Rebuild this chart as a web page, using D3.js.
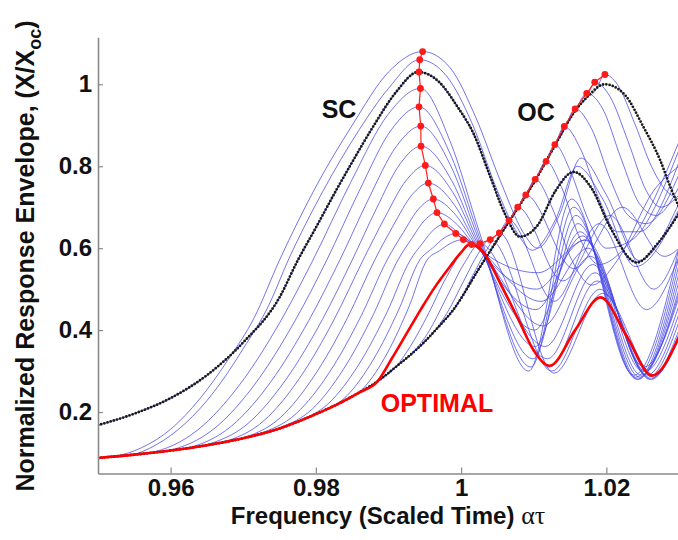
<!DOCTYPE html>
<html><head><meta charset="utf-8">
<script src="https://cdn.jsdelivr.net/npm/d3@7"></script>
<style>body{margin:0;background:#fff}svg{display:block}</style>
</head><body><svg id="c" width="678" height="540"></svg>
<script>
// ---- data ----
const xTicks = [0.96, 0.98, 1, 1.02];
const yTicks = [0.2, 0.4, 0.6, 0.8, 1];

// open-circuit (OC) response
const ocX = [0.950,0.955,0.960,0.965,0.970,0.975,0.980,0.9833,0.986,0.9885,0.991,0.9943,0.9970,0.9989,1.0026,1.0066,1.0102,1.0129,1.0157,1.0173,1.0198,1.0225,1.0251,1.0274,1.0288,1.030];
const ocY = [0.088,0.096,0.106,0.119,0.136,0.160,0.195,0.222,0.248,0.275,0.310,0.360,0.410,0.449,0.554,0.665,0.765,0.850,0.935,0.968,1.000,0.975,0.896,0.815,0.750,0.700];

// short-circuit (SC) response
const scX = [0.950,0.955,0.960,0.965,0.970,0.975,0.9775,0.980,0.9826,0.985,0.988,0.991,0.9941,0.997,0.9995,1.0017,1.004,1.006,1.0081,1.0105,1.013,1.0155,1.018,1.0205,1.0242,1.027,1.030];
const scY = [0.168,0.196,0.234,0.290,0.370,0.480,0.570,0.650,0.735,0.810,0.900,0.980,1.030,1.005,0.945,0.880,0.775,0.685,0.628,0.655,0.740,0.786,0.745,0.652,0.565,0.610,0.685];

// optimal switching response
const optX = [0.950,0.955,0.960,0.965,0.970,0.975,0.980,0.9833,0.986,0.9885,0.9905,0.9925,0.9945,0.9965,0.9985,1.0000,1.0012,1.0030,1.0055,1.0081,1.0100,1.0122,1.0157,1.0192,1.0228,1.0263,1.030];
const optY = [0.088,0.096,0.106,0.119,0.136,0.160,0.195,0.222,0.248,0.275,0.332,0.392,0.452,0.508,0.556,0.590,0.610,0.592,0.510,0.418,0.350,0.313,0.400,0.480,0.385,0.289,0.384];

// peak of each switching curve (red dots)
const peakX = [0.9947,0.9943,0.9942,0.9944,0.9942,0.99444,0.99448,0.99507,0.99548,0.99617,0.99668,0.99769,0.99926,1.0003,1.00145,1.0026,1.0040,1.00526,1.0066,1.0078,1.0089,1.0102,1.0117,1.0129,1.0142,1.0157,1.0173,1.0184,1.0198];
const peakY = [1.080,1.060,1.030,0.990,0.945,0.898,0.849,0.802,0.759,0.720,0.687,0.659,0.636,0.621,0.609,0.611,0.621,0.637,0.668,0.700,0.730,0.768,0.812,0.853,0.897,0.940,0.978,1.005,1.024];

// switching curves, early family (leave OC before the SC resonance)
const earlyCurves = [
 [[0.9522,0.0915],[0.956,0.113],[0.960,0.158],[0.964,0.232],[0.968,0.33],[0.9715,0.43],[0.975,0.571],[0.980,0.75],[0.985,0.90],[0.990,1.03],[0.9947,1.08],[0.9985,1.04],[1.002,0.92],[1.0055,0.76],[1.0085,0.64],[1.0105,0.60],[1.0135,0.68],[1.0165,0.82],[1.020,0.73],[1.0245,0.57],[1.030,0.71]],
 [[0.9545,0.095],[0.958,0.12],[0.962,0.172],[0.966,0.25],[0.970,0.355],[0.9735,0.46],[0.9762,0.571],[0.981,0.74],[0.986,0.89],[0.990,0.99],[0.9943,1.06],[0.998,1.02],[1.0015,0.905],[1.005,0.74],[1.0078,0.635],[1.0098,0.595],[1.013,0.67],[1.016,0.80],[1.0195,0.72],[1.024,0.555],[1.030,0.695]],
 [[0.9570,0.100],[0.96378,0.157],[0.96943,0.265],[0.97508,0.420],[0.9796,0.571],[0.98478,0.760],[0.98996,0.927],[0.9944,0.990],[0.9985,0.86],[1.0026,0.635],[1.0093,0.30],[1.0152,0.72],[1.0238,0.29],[1.030,0.60]],
 [[0.9595,0.105],[0.9661,0.161],[0.9716,0.268],[0.9771,0.422],[0.9815,0.571],[0.98595,0.739],[0.99039,0.889],[0.9942,0.945],[0.9985,0.83],[1.0025,0.628],[1.0096,0.31],[1.0155,0.70],[1.0240,0.285],[1.030,0.58]],
 [[0.9620,0.111],[0.96839,0.166],[0.97372,0.272],[0.97904,0.424],[0.9833,0.571],[0.9872,0.718],[0.9911,0.849],[0.99444,0.898],[0.9986,0.80],[1.0024,0.622],[1.0099,0.33],[1.0158,0.68],[1.0242,0.28],[1.030,0.56]],
 [[0.9645,0.118],[0.97065,0.172],[0.97578,0.277],[0.9809,0.426],[0.9850,0.571],[0.98832,0.696],[0.99164,0.807],[0.99448,0.849],[0.9987,0.765],[1.0023,0.617],[1.0102,0.36],[1.0161,0.66],[1.0244,0.28],[1.030,0.54]],
 [[0.9670,0.126],[0.97285,0.179],[0.97773,0.282],[0.9826,0.429],[0.9865,0.571],[0.9895,0.675],[0.9925,0.767],[0.99507,0.802],[0.9989,0.735],[1.0022,0.613],[1.0101,0.40],[1.0164,0.64],[1.0246,0.285],[1.030,0.52]],
 [[0.9695,0.134],[0.97508,0.186],[0.97973,0.287],[0.98438,0.431],[0.9881,0.571],[0.99068,0.656],[0.99327,0.731],[0.99548,0.759],[0.9991,0.705],[1.0021,0.610],[1.0103,0.45],[1.0167,0.63],[1.0248,0.29],[1.030,0.50]],
 [[0.9720,0.146],[0.97734,0.197],[0.98179,0.295],[0.98624,0.435],[0.9898,0.571],[0.99203,0.638],[0.99426,0.698],[0.99617,0.720],[0.9993,0.68],[1.0020,0.608],[1.0104,0.50],[1.0170,0.62],[1.0250,0.30],[1.030,0.49]],
 [[0.9745,0.158],[0.97954,0.208],[0.98374,0.303],[0.98794,0.439],[0.9913,0.571],[0.99318,0.623],[0.99507,0.670],[0.99668,0.687],[0.9995,0.657],[1.0019,0.607],[1.0106,0.54],[1.0172,0.62],[1.0252,0.31],[1.030,0.48]],
 [[0.9770,0.174],[0.9818,0.222],[0.9858,0.313],[0.9898,0.444],[0.9930,0.571],[0.99464,0.611],[0.99628,0.646],[0.99769,0.659],[1.0000,0.632],[1.0020,0.606],[1.0110,0.47],[1.0175,0.60],[1.0254,0.30],[1.030,0.46]],
 [[0.9800,0.195],[0.98429,0.240],[0.98787,0.327],[0.99144,0.451],[0.9943,0.571],[0.99604,0.600],[0.99777,0.626],[0.99926,0.636],[1.0019,0.607],[1.0113,0.41],[1.0178,0.58],[1.0256,0.29],[1.030,0.44]],
 [[0.9830,0.219],[0.98669,0.261],[0.98977,0.342],[0.99284,0.458],[0.9953,0.571],[0.99705,0.594],[0.9988,0.614],[1.0003,0.621],[1.0022,0.60],[1.0116,0.36],[1.0181,0.56],[1.0258,0.285],[1.030,0.42]]
];

// switching curves, late family (leave OC after the SC resonance)
const lateCurves = [
 [[0.991,0.31],[0.993,0.36],[0.9955,0.44],[0.998,0.53],[1.00145,0.609],[1.0119,0.33],[1.0184,0.54],[1.0260,0.28],[1.030,0.40]],
 [[0.9935,0.348],[0.9955,0.395],[0.998,0.48],[1.0005,0.565],[1.0026,0.611],[1.0122,0.31],[1.0187,0.52],[1.0262,0.28],[1.030,0.39]],
 [[0.996,0.391],[0.998,0.44],[1.0005,0.525],[1.0023,0.585],[1.004,0.621],[1.0125,0.30],[1.0191,0.50],[1.0264,0.285],[1.030,0.385]],
 [[0.9995,0.463],[1.0015,0.53],[1.0035,0.595],[1.00526,0.637],[1.0128,0.295],[1.0195,0.49],[1.0266,0.29],[1.030,0.38]],
 [[1.0045,0.607],[1.0066,0.668],[1.0128,0.47],[1.0190,0.66],[1.0255,0.45],[1.030,0.58]],
 [[1.0066,0.665],[1.0078,0.700],[1.0140,0.52],[1.0205,0.68],[1.0265,0.50],[1.030,0.60]],
 [[1.0078,0.698],[1.0089,0.730],[1.0155,0.55],[1.0222,0.70],[1.0280,0.58],[1.030,0.60]],
 [[1.0089,0.729],[1.0102,0.768],[1.0125,0.70],[1.015,0.58],[1.018,0.51],[1.0215,0.57],[1.0265,0.74],[1.030,0.80]],
 [[1.0102,0.765],[1.0117,0.812],[1.0138,0.75],[1.0162,0.63],[1.019,0.56],[1.0225,0.60],[1.030,0.86]],
 [[1.0117,0.812],[1.0129,0.853],[1.015,0.79],[1.0175,0.67],[1.020,0.60],[1.0235,0.62],[1.030,0.84]],
 [[1.0129,0.850],[1.0142,0.897],[1.0165,0.84],[1.019,0.72],[1.0215,0.64],[1.0245,0.64],[1.030,0.81]],
 [[1.0142,0.889],[1.0157,0.940],[1.018,0.89],[1.0205,0.77],[1.023,0.68],[1.0255,0.66],[1.030,0.78]],
 [[1.0157,0.935],[1.0173,0.978],[1.0195,0.94],[1.022,0.82],[1.0245,0.71],[1.0268,0.68],[1.030,0.75]],
 [[1.0173,0.968],[1.0184,1.005],[1.0205,0.97],[1.023,0.86],[1.0255,0.74],[1.0275,0.70],[1.030,0.73]],
 [[1.0184,0.982],[1.0198,1.024],[1.0215,1.00],[1.024,0.90],[1.0262,0.80],[1.028,0.745],[1.030,0.72]]
];

// ---- drawing ----
const svg = d3.select("#c");
const x = d3.scaleLinear().domain([0.95, 1.03]).range([98, 679]);
const y = d3.scaleLinear().domain([0.05, 1.115]).range([473.5, 37.2]);

const zip = (xs, ys) => xs.map((v, i) => [v, ys[i]]);
const ocPts = zip(ocX, ocY);
const scPts = zip(scX, scY);
const optPts = zip(optX, optY);
const peakPts = zip(peakX, peakY);

// each switching curve follows OC until it leaves it
const withPrefix = pts => ocPts.filter(p => p[0] < pts[0][0] - 1e-5).concat(pts);

const line = d3.line().x(d => x(d[0])).y(d => y(d[1])).curve(d3.curveMonotoneX);

svg.append("defs").append("clipPath").attr("id", "clip")
  .append("rect").attr("x", 98).attr("y", 30).attr("width", 581).attr("height", 444);

const plot = svg.append("g").attr("clip-path", "url(#clip)");

const blue = "rgb(70,70,228)";
plot.selectAll("path.blue")
  .data(earlyCurves.concat(lateCurves).map(withPrefix))
  .join("path").attr("class", "blue")
  .attr("d", line).attr("fill", "none")
  .attr("stroke", blue).attr("stroke-width", 1).attr("stroke-opacity", 0.75);

// SC also belongs to the family
plot.append("path").attr("d", line(scPts)).attr("fill", "none")
  .attr("stroke", blue).attr("stroke-width", 1.2).attr("stroke-opacity", 0.8);

// black dotted SC and OC
[scPts, ocPts].forEach(p => {
  plot.append("path").attr("d", line(p)).attr("fill", "none")
    .attr("stroke", "#1a1a1a").attr("stroke-width", 2.8)
    .attr("stroke-linecap", "round").attr("stroke-dasharray", "0 3.3");
});

// optimal
plot.append("path").attr("d", line(optPts)).attr("fill", "none")
  .attr("stroke", "#ff0000").attr("stroke-width", 2.6);

// peaks locus
plot.append("path").attr("d", d3.line().x(d => x(d[0])).y(d => y(d[1]))(peakPts))
  .attr("fill", "none").attr("stroke", "#ff2020").attr("stroke-width", 1.2);
plot.selectAll("circle.pk").data(peakPts).join("circle").attr("class", "pk")
  .attr("cx", d => x(d[0])).attr("cy", d => y(d[1])).attr("r", 3.4).attr("fill", "#ff1a1a");

// axes
const font = "Liberation Sans, Arial, sans-serif";
const fmt = d3.format("~g");
const gx = svg.append("g").attr("transform", "translate(0,473.5)")
  .call(d3.axisBottom(x).tickValues(xTicks).tickFormat(fmt).tickSizeInner(-6).tickSizeOuter(0).tickPadding(5));
const gy = svg.append("g").attr("transform", "translate(98,0)")
  .call(d3.axisLeft(y).tickValues(yTicks).tickFormat(fmt).tickSizeInner(-5).tickSizeOuter(0).tickPadding(6));
[gx, gy].forEach(g => {
  g.select(".domain").attr("stroke", "#8a8a8a").attr("stroke-width", 1.6);
  g.selectAll(".tick line").attr("stroke", "#8a8a8a").attr("stroke-width", 1.2);
  g.selectAll("text").attr("font-family", font)
    .attr("font-weight", "bold").attr("font-size", 24).attr("fill", "#111");
});

// x label
const xl = svg.append("text").attr("x", 388).attr("y", 524).attr("text-anchor", "middle")
  .attr("font-family", font).attr("font-weight", "bold").attr("font-size", 24).attr("fill", "#111");
xl.append("tspan").text("Frequency (Scaled Time) ");
xl.append("tspan").attr("font-family", "Liberation Serif, DejaVu Serif, serif")
  .attr("font-weight", "normal").attr("font-size", 26).text("ατ");

// y label
const yl = svg.append("text").attr("transform", "translate(34,256) rotate(-90)")
  .attr("text-anchor", "middle").attr("font-family", font).attr("font-weight", "bold")
  .attr("font-size", 25).attr("fill", "#111");
yl.append("tspan").text("Normalized Response Envelope, (X/X");
yl.append("tspan").attr("font-size", 18).attr("dy", 7).text("oc");
yl.append("tspan").attr("dy", -7).text(")");

// annotations
const ann = (t, cx, by, col) => svg.append("text").attr("x", cx).attr("y", by)
  .attr("text-anchor", "middle").attr("font-family", font).attr("font-weight", "bold")
  .attr("font-size", 25).attr("fill", col).text(t);
ann("SC", 339, 118, "#111");
ann("OC", 536, 121, "#111");
ann("OPTIMAL", 437, 412, "#ff0000");
</script></body></html>
